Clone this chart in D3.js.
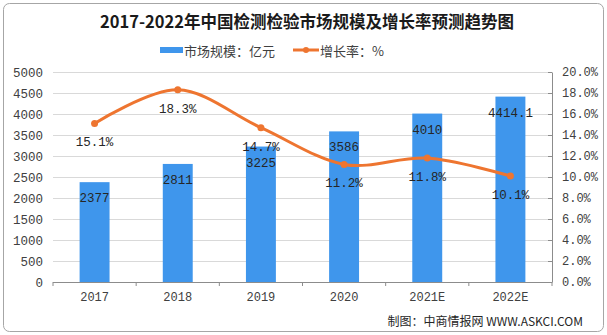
<!DOCTYPE html>
<html><head><meta charset="utf-8">
<script src="https://cdn.jsdelivr.net/npm/d3@7"></script>
<style>
html,body{margin:0;padding:0;background:#fff;}
svg{display:block;}
</style></head>
<body>
<svg id="c" width="607" height="335"></svg>
<script>
const categories = ["2017","2018","2019","2020","2021E","2022E"];
const marketSize = [2377, 2811, 3225, 3586, 4010, 4414.1];
const marketLabels = ["2377","2811","3225","3586","4010","4414.1"];
const growthRate = [15.1, 18.3, 14.7, 11.2, 11.8, 10.1];
const leftTicks = [0,500,1000,1500,2000,2500,3000,3500,4000,4500,5000];
const rightTicks = [0,2,4,6,8,10,12,14,16,18,20];
const title = "2017-2022年中国检测检验市场规模及增长率预测趋势图";
const legendBar = "市场规模：亿元";
const legendLine = "增长率：%";
const footer = "制图：中商情报网 WWW.ASKCI.COM";

const numFont = '"Liberation Mono","Noto Sans CJK SC",monospace';
const cjkFont = '"Noto Sans CJK SC","Liberation Mono",sans-serif';
const blue = "#3f96ec", orange = "#ee7530";

const svg = d3.select("#c");
const L = 53, R = 552, T = 72, B = 282;

// frame
svg.append("rect").attr("x",3.5).attr("y",3.5).attr("width",600).attr("height",328)
  .attr("rx",6).attr("fill","#fff").attr("stroke","#a6a6a6").attr("stroke-width",1);

const x = d3.scaleBand().domain(categories).range([L,R]).paddingInner(0.64).paddingOuter(0.32);
const xc = d => x(d) + x.bandwidth()/2;
const yL = d3.scaleLinear().domain([0,5000]).range([B,T]);
const yR = d3.scaleLinear().domain([0,20]).range([B,T]);

// gridlines
svg.append("g").selectAll("line").data(leftTicks.slice(1)).join("line")
  .attr("x1",L).attr("x2",R).attr("y1",d=>Math.round(yL(d))+0.5).attr("y2",d=>Math.round(yL(d))+0.5)
  .attr("stroke","#d9d9d9").attr("stroke-width",1);

// left axis
const gl = svg.append("g").attr("transform",`translate(${L},0)`)
  .call(d3.axisLeft(yL).tickValues(leftTicks).tickSize(0).tickPadding(10).tickFormat(d=>d));
gl.select(".domain").remove();
gl.selectAll("text").attr("font-family",numFont).attr("font-size",12.5).attr("fill","#404040");

// right axis
const gr = svg.append("g").attr("transform",`translate(${R},0)`)
  .call(d3.axisRight(yR).tickValues(rightTicks).tickSizeInner(-4).tickSizeOuter(0).tickPadding(10).tickFormat(d=>d.toFixed(1)+"%"));
gr.select(".domain").attr("stroke","#8c8c8c");
gr.selectAll(".tick line").attr("stroke","#8c8c8c");
gr.selectAll("text").attr("font-family",numFont).attr("font-size",12).attr("fill","#404040");

// bars
svg.append("g").selectAll("rect").data(marketSize).join("rect")
  .attr("x",(d,i)=>x(categories[i])).attr("width",x.bandwidth())
  .attr("y",d=>yL(d)).attr("height",d=>B-yL(d)).attr("fill",blue);

// x axis
const gx = svg.append("g").attr("transform",`translate(0,${B})`)
  .call(d3.axisBottom(x).tickSize(0).tickPadding(10));
gx.select(".domain").attr("stroke","#8c8c8c").attr("d",`M${L},0.5H${R}`);
gx.selectAll("text").attr("font-family",numFont).attr("font-size",12).attr("fill","#404040");
const bounds = categories.map((c,i)=>L + i*(R-L)/categories.length).concat([R]);
svg.append("g").selectAll("line").data(bounds).join("line")
  .attr("x1",d=>d).attr("x2",d=>d).attr("y1",B).attr("y2",B+4).attr("stroke","#8c8c8c");

// bar labels
svg.append("g").selectAll("text").data(marketLabels).join("text")
  .attr("x",(d,i)=>xc(categories[i])).attr("y",(d,i)=>yL(marketSize[i])+20)
  .attr("text-anchor","middle").attr("font-family",numFont).attr("font-size",12.5).attr("fill","#262626")
  .text(d=>d);

// line
const line = d3.line().x((d,i)=>xc(categories[i])).y(d=>yR(d)).curve(d3.curveCardinal.tension(0));
svg.append("path").datum(growthRate).attr("d",line).attr("fill","none")
  .attr("stroke",orange).attr("stroke-width",3);
svg.append("g").selectAll("circle").data(growthRate).join("circle")
  .attr("cx",(d,i)=>xc(categories[i])).attr("cy",d=>yR(d)).attr("r",3.5).attr("fill",orange);

// line labels
svg.append("g").selectAll("text").data(growthRate).join("text")
  .attr("x",(d,i)=>xc(categories[i])).attr("y",d=>yR(d)+23)
  .attr("text-anchor","middle").attr("font-family",numFont).attr("font-size",12.5).attr("fill","#262626")
  .text(d=>d.toFixed(1)+"%");

// title
svg.append("text").attr("x",307).attr("y",28).attr("text-anchor","middle")
  .attr("font-family",cjkFont).attr("font-weight","bold").attr("font-size",16.5).attr("fill","#1a1a1a")
  .text(title);

// legend
const lg = svg.append("g");
lg.append("rect").attr("x",160).attr("y",47).attr("width",23).attr("height",6).attr("fill",blue);
lg.append("text").attr("x",184).attr("y",55.5).attr("font-family",cjkFont).attr("font-size",13).attr("fill","#404040").text(legendBar);
lg.append("line").attr("x1",293).attr("x2",319).attr("y1",50).attr("y2",50).attr("stroke",orange).attr("stroke-width",3);
lg.append("circle").attr("cx",306).attr("cy",50).attr("r",3).attr("fill",orange);
lg.append("text").attr("x",320).attr("y",55.5).attr("font-family",cjkFont).attr("font-size",13).attr("fill","#404040").text(legendLine);

// footer
svg.append("text").attr("x",583).attr("y",326).attr("text-anchor","end")
  .attr("font-family",cjkFont).attr("font-size",12).attr("fill","#262626").text(footer);
</script>
</body></html>
